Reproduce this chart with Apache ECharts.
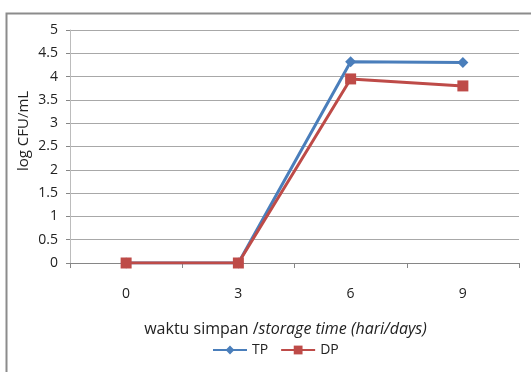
<!DOCTYPE html>
<html><head><meta charset="utf-8">
<script src="https://cdn.jsdelivr.net/npm/echarts@6/dist/echarts.min.js"></script>
<style>html,body{margin:0;padding:0;background:#fff}#c{width:531px;height:372px}</style>
</head><body><div id="c"></div>
<script>
const categories = ['0', '3', '6', '9'];
const tpValues = [0, 0, 4.32, 4.3];
const dpValues = [0, 0, 3.95, 3.8];
const seriesNames = ['TP', 'DP'];
const yAxisTitle = 'log CFU/mL';

const chart = echarts.init(document.getElementById('c'), null, {renderer: 'canvas'});
const font = '"Open Sans", "Liberation Sans", sans-serif';
chart.setOption({
  animation: false,
  backgroundColor: '#fff',
  textStyle: {fontFamily: font},
  graphic: [
    {type: 'rect', left: 4, top: 11, shape: {width: 600, height: 400}, style: {fill: 'none', stroke: '#8c8c8c', lineWidth: 2}, silent: true},
    {type: 'text', x: 24, y: 131, rotation: Math.PI / 2, style: {text: yAxisTitle, font: '15px ' + font, fill: '#222', align: 'center', verticalAlign: 'middle'}}
  ],
  grid: {left: 70, right: 12, top: 30, bottom: 109},
  legend: {
    data: seriesNames, bottom: 10, left: 207, itemWidth: 34, itemHeight: 11, itemGap: 12,
    textStyle: {fontSize: 14, color: '#222', fontFamily: font}
  },
  xAxis: {
    type: 'category', data: categories, boundaryGap: true,
    axisLine: {lineStyle: {color: '#868686', width: 1}},
    axisTick: {show: true, length: 5, lineStyle: {color: '#868686'}},
    axisLabel: {color: '#222', fontSize: 14, margin: 24, fontFamily: font},
    name: '{n|waktu simpan /}{i|storage time (hari/days)}', nameLocation: 'middle', nameGap: 58,
    nameTextStyle: {padding: [0, 18, 0, 0], rich: {n: {fontSize: 16, color: '#222', fontFamily: font}, i: {fontSize: 16, color: '#222', fontStyle: 'italic', fontFamily: font}}}
  },
  yAxis: {
    type: 'value', min: 0, max: 5, interval: 0.5,
    axisLine: {show: true, lineStyle: {color: '#bcbcbc'}},
    axisTick: {show: true, length: 4, lineStyle: {color: '#868686'}},
    axisLabel: {color: '#222', fontSize: 14, margin: 12, fontFamily: font},
    splitLine: {lineStyle: {color: '#a8a8a8', width: 1}}
  },
  series: [
    {name: seriesNames[0], type: 'line', data: tpValues, symbol: 'diamond', symbolSize: 11,
     lineStyle: {color: '#4a7ebb', width: 3}, itemStyle: {color: '#4a7ebb'}},
    {name: seriesNames[1], type: 'line', data: dpValues, symbol: 'rect', symbolSize: 11,
     lineStyle: {color: '#be4b48', width: 3}, itemStyle: {color: '#be4b48'}}
  ]
});
</script></body></html>
